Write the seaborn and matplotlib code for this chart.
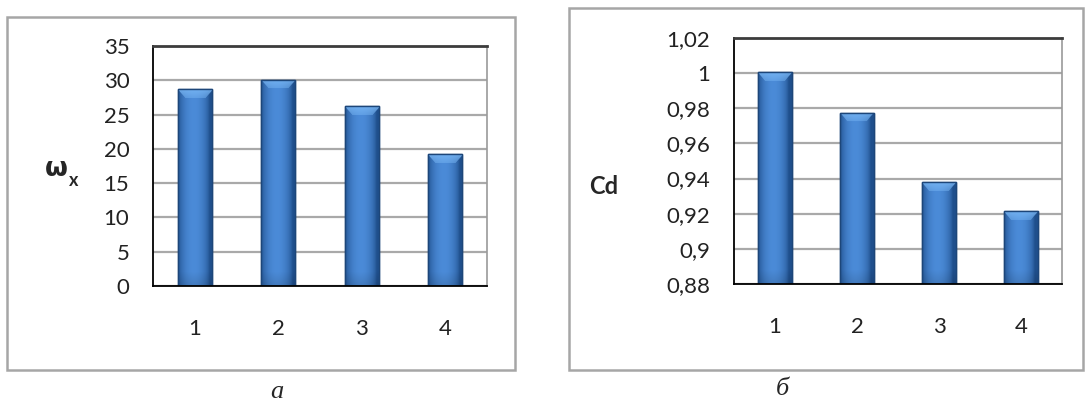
import numpy as np
import matplotlib
matplotlib.use("Agg")
import matplotlib.pyplot as plt
import matplotlib.patches as mpatches
from matplotlib.colors import to_rgb
import seaborn as sns

# ---- data ----
categories = ["1", "2", "3", "4"]
omega_values = [28.7, 30.1, 26.2, 19.2]
omega_ticks = [0, 5, 10, 15, 20, 25, 30, 35]
omega_tick_labels = ["0", "5", "10", "15", "20", "25", "30", "35"]
cd_values = [1.0005, 0.9775, 0.938, 0.9215]
cd_ticks = [0.88, 0.90, 0.92, 0.94, 0.96, 0.98, 1.00, 1.02]
cd_tick_labels = ["0,88", "0,9", "0,92", "0,94", "0,96", "0,98", "1", "1,02"]
caption_left = "а"
caption_right = "б"

sns.set_style("white")
plt.rcParams["font.family"] = ["Lato", "DejaVu Sans"]

W, H = 1092, 404
fig = plt.figure(figsize=(W / 100, H / 100), dpi=100)


def fx(px):
    return px / W


def fy(py):
    return 1 - py / H


# outer frames
for (x0, y0, x1, y1) in [(7, 17, 515, 370), (569, 8, 1083, 370)]:
    fig.patches.append(mpatches.Rectangle((fx(x0), fy(y1)), fx(x1 - x0), (y1 - y0) / H,
                                          transform=fig.transFigure, fill=False,
                                          edgecolor="#a6a6a6", linewidth=1.8))

ax1 = fig.add_axes([fx(153), fy(286), fx(487 - 153), (286 - 46) / H])
ax2 = fig.add_axes([fx(734), fy(284), fx(1062 - 734), (284 - 38) / H])

dark = np.array(to_rgb("#1f4f8c"))
light = np.array(to_rgb("#4b8bd8"))
cap = np.array(to_rgb("#78b6f4"))


def style_axes(ax, values, ticks, labels, ylim, xminor):
    sns.barplot(x=categories, y=values, color="#3a77c3", width=0.41, ax=ax,
                edgecolor="#1d4679", linewidth=1.0, saturation=1)
    ax.set_ylim(*ylim)
    ax.set_xlim(-0.5, len(categories) - 0.5)
    ax.set_yticks(ticks)
    ax.set_yticklabels(labels)
    ax.grid(axis="y", color="#a9a9a9", linewidth=1.6)
    ax.grid(axis="x", visible=False)
    ax.set_axisbelow(True)
    ax.set_xlabel("")
    ax.set_ylabel("")
    for s in ["left", "bottom"]:
        ax.spines[s].set_color("black")
        ax.spines[s].set_linewidth(1.3)
    ax.spines["top"].set_color("#3c3c3c")
    ax.spines["top"].set_linewidth(2.0)
    ax.spines["right"].set_color("#9a9a9a")
    ax.spines["right"].set_linewidth(1.2)
    ax.tick_params(axis="y", which="major", length=8, width=1.2, direction="out",
                   color="black", labelsize=16, pad=9, labelcolor="#222222")
    ax.tick_params(axis="x", which="major", length=0, labelsize=16, pad=24,
                   labelcolor="#222222")
    if xminor:
        ax.set_xticks([-0.5, 0.5, 1.5, 2.5, 3.5], minor=True)
        ax.tick_params(axis="x", which="minor", length=9, width=1.2,
                       direction="out", color="black")

    # bevel-like gradient on every bar
    ylo_lim = ax.get_ylim()[0]
    for p in list(ax.patches):
        x0, w = p.get_x(), p.get_width()
        y0, h = p.get_y(), p.get_height()
        ylo = max(y0, ylo_lim)
        ytop = y0 + h
        ph = ax.transData.transform((0, ytop))[1] - ax.transData.transform((0, ylo))[1]
        nrows = max(int(round(ph)), 2)
        ncols = 40
        t = np.linspace(0, 1, ncols)
        prof = np.clip(np.sin(np.pi * np.clip(t * 1.1, 0, 1)) ** 0.6, 0, 1)
        row = dark[None, :] + (light - dark)[None, :] * prof[:, None]
        img = np.repeat(row[None, :, :], nrows, axis=0)
        # top cap (lighter trapezoid)
        capn = min(9, nrows)
        for r in range(capn):
            inset = (r / capn) * 0.22
            mask = (t > inset) & (t < 1 - inset)
            blend = 0.85 * (1 - r / capn * 0.5)
            img[r, mask] = img[r, mask] * (1 - blend) + cap * blend
        # bottom, smoothly slightly darker
        botn = min(14, nrows)
        for r in range(botn):
            f = 1 - 0.12 * (1 - r / botn)
            img[nrows - 1 - r] = img[nrows - 1 - r] * f
        im = ax.imshow(img, extent=(x0, x0 + w, ylo, ytop), origin="upper",
                       aspect="auto", zorder=p.get_zorder() + 0.1, interpolation="bilinear")
        im.set_clip_path(p)
        ax.add_patch(mpatches.Rectangle((x0, y0), w, h, fill=False,
                                        edgecolor="#1d4679", linewidth=1.0,
                                        zorder=p.get_zorder() + 0.2))
    ax.set_ylim(*ylim)
    ax.set_xlim(-0.5, len(categories) - 0.5)


style_axes(ax1, omega_values, omega_ticks, omega_tick_labels, (0, 35), True)
style_axes(ax2, cd_values, cd_ticks, cd_tick_labels, (0.88, 1.02), False)

# axis titles
fig.text(fx(45), fy(169), "ω", fontsize=19, fontweight="bold", ha="left", va="center",
         family=["DejaVu Sans"])
fig.text(fx(69), fy(181), "x", fontsize=13, fontweight="bold", ha="left", va="center")
fig.text(fx(589), fy(186), "Cd", fontsize=17, fontweight="bold", ha="left", va="center")

# captions
fig.text(fx(277), fy(392), caption_left, fontsize=19, fontstyle="italic", ha="center",
         va="center", family=["Liberation Serif"])
fig.text(fx(782), fy(389), caption_right, fontsize=19, fontstyle="italic", ha="center",
         va="center", family=["Liberation Serif"])

fig.savefig("out.png", dpi=100)
